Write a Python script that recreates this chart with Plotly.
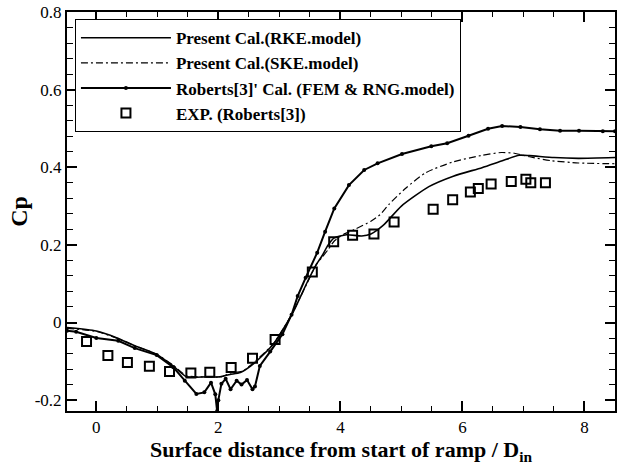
import plotly.graph_objects as go

# Present Cal. (RKE model)
rke_x = [-0.48, 0.0, 0.33, 0.63, 0.99, 1.26, 1.48, 1.8, 2.03, 2.19, 2.36, 2.58, 2.9, 3.21, 3.46, 3.6, 3.7, 3.8, 3.9, 4.1, 4.35, 4.5, 4.7, 5.0, 5.45, 5.85, 6.32, 6.64, 6.93, 7.1, 7.5, 7.9, 8.5]
rke_y = [-0.013, -0.022, -0.039, -0.06, -0.082, -0.112, -0.14, -0.14, -0.14, -0.134, -0.129, -0.106, -0.056, 0.022, 0.105, 0.148, 0.172, 0.2, 0.218, 0.226, 0.223, 0.228, 0.25, 0.3, 0.35, 0.377, 0.399, 0.416, 0.431, 0.43, 0.425, 0.423, 0.425]

# Present Cal. (SKE model)
ske_x = [-0.48, 0.0, 0.33, 0.63, 0.99, 1.26, 1.48, 1.8, 2.05, 2.2, 2.4, 2.6, 2.9, 3.2, 3.45, 3.6, 3.7, 3.8, 3.9, 4.05, 4.25, 4.5, 4.65, 4.8, 5.07, 5.4, 5.85, 6.3, 6.64, 6.85, 7.1, 7.45, 7.9, 8.5]
ske_y = [-0.015, -0.023, -0.04, -0.06, -0.082, -0.11, -0.137, -0.14, -0.14, -0.13, -0.125, -0.1, -0.055, 0.02, 0.1, 0.148, 0.168, 0.188, 0.21, 0.227, 0.241, 0.261, 0.278, 0.305, 0.346, 0.386, 0.414, 0.43, 0.438, 0.436, 0.427, 0.417, 0.411, 0.409]

# Roberts[3]' Cal. (FEM & RNG model)
rob_x = [-0.48, -0.33, 0.0, 0.36, 0.63, 0.99, 1.26, 1.45, 1.64, 1.77, 1.88, 1.95, 1.98, 2.0, 2.05, 2.12, 2.2, 2.3, 2.38, 2.47, 2.56, 2.6, 2.68, 2.85, 3.05, 3.2, 3.3, 3.43, 3.62, 3.75, 3.9, 4.14, 4.39, 4.61, 5.01, 5.49, 5.75, 6.1, 6.42, 6.65, 6.95, 7.27, 7.6, 7.91, 8.3, 8.5]
rob_y = [-0.021, -0.024, -0.04, -0.047, -0.066, -0.084, -0.115, -0.15, -0.184, -0.18, -0.155, -0.185, -0.228, -0.2, -0.158, -0.145, -0.172, -0.15, -0.16, -0.148, -0.172, -0.165, -0.112, -0.075, -0.03, 0.02, 0.068, 0.115, 0.18, 0.234, 0.294, 0.354, 0.393, 0.41, 0.434, 0.454, 0.462, 0.481, 0.499, 0.506, 0.504, 0.498, 0.494, 0.494, 0.493, 0.493]

# EXP. (Roberts[3])
exp_x = [-0.16, 0.19, 0.51, 0.87, 1.2, 1.55, 1.86, 2.21, 2.56, 2.93, 3.54, 3.89, 4.2, 4.55, 4.88, 5.52, 5.84, 6.13, 6.26, 6.47, 6.8, 7.04, 7.12, 7.36]
exp_y = [-0.049, -0.085, -0.103, -0.113, -0.126, -0.13, -0.128, -0.116, -0.092, -0.044, 0.13, 0.208, 0.225, 0.228, 0.259, 0.292, 0.316, 0.336, 0.345, 0.357, 0.363, 0.369, 0.36, 0.36]

x_tickvals = [0, 2, 4, 6, 8]
x_ticktext = ["0", "2", "4", "6", "8"]
y_tickvals = [-0.2, 0, 0.2, 0.4, 0.6, 0.8]
y_ticktext = ["-0.2", "0", "0.2", "0.4", "0.6", "0.8"]

serif = "Liberation Serif, Times New Roman, serif"

fig = go.Figure()
fig.add_trace(go.Scatter(x=rke_x, y=rke_y, mode="lines", name="<b>Present Cal.(RKE.model)</b>",
                         line=dict(color="black", width=1.6, shape="spline", smoothing=0.6)))
fig.add_trace(go.Scatter(x=ske_x, y=ske_y, mode="lines", name="<b>Present Cal.(SKE.model)</b>",
                         line=dict(color="black", width=1.2, dash="7px,3px,2px,3px", shape="spline", smoothing=0.6)))
fig.add_trace(go.Scatter(x=rob_x, y=rob_y, mode="lines+markers", name="<b>Roberts[3]' Cal. (FEM & RNG.model)</b>",
                         line=dict(color="black", width=2),
                         marker=dict(symbol="circle", size=4, color="black")))
fig.add_trace(go.Scatter(x=exp_x, y=exp_y, mode="markers", name="<b>EXP. (Roberts[3])</b>",
                         marker=dict(symbol="square-open", size=9, color="black", line=dict(width=2, color="black"))))

axis_common = dict(showline=True, linecolor="black", linewidth=2, mirror="ticks",
                   ticks="inside", ticklen=10, tickwidth=1.5, tickcolor="black",
                   showgrid=False, zeroline=False,
                   tickfont=dict(family=serif, size=17, color="black"))

fig.update_xaxes(range=[-0.48, 8.5], tickvals=x_tickvals, ticktext=x_ticktext,
                 minor=dict(ticks="inside", ticklen=5, dtick=0.5, tick0=0, tickcolor="black", tickwidth=1),
                 title=dict(text="<b>Surface distance from start of ramp / D<sub>in</sub></b>",
                            font=dict(family=serif, size=22, color="black"), standoff=0),
                 **axis_common)
fig.update_yaxes(range=[-0.228, 0.8], tickvals=y_tickvals, ticktext=y_ticktext,
                 minor=dict(ticks="inside", ticklen=6, dtick=0.04, tick0=0, tickcolor="black", tickwidth=1),
                 title=dict(text="<b>Cp</b>", font=dict(family=serif, size=24, color="black"), standoff=0),
                 **axis_common)

fig.update_layout(
    width=619, height=466,
    margin=dict(l=67, r=2, t=12, b=55),
    paper_bgcolor="white", plot_bgcolor="white",
    showlegend=True,
    legend=dict(x=0.0145, y=0.982, xanchor="left", yanchor="top",
                bgcolor="white", bordercolor="black", borderwidth=1,
                font=dict(family=serif, size=17, color="black"),
                itemwidth=90),
)

fig.write_html("out.html", config={"displayModeBar": False})
with open("out.html", "r", encoding="utf-8") as f:
    html = f.read()
html = html.replace("<head>", "<head><style>html,body{margin:0;padding:0;overflow:hidden;}</style>", 1)
with open("out.html", "w", encoding="utf-8") as f:
    f.write(html)
